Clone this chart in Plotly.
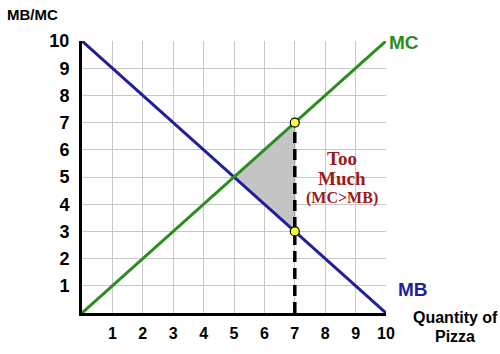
import plotly.graph_objects as go

quantity = [0, 10]
mb_values = [10, 0]
mc_values = [0, 10]
q_star = 7
mc_at_q = 7
mb_at_q = 3
eq_q = 5
eq_p = 5
tick_vals = list(range(1, 11))

fig = go.Figure()

# shaded deadweight triangle
fig.add_trace(go.Scatter(x=[eq_q, q_star, q_star, eq_q], y=[eq_p, mc_at_q, mb_at_q, eq_p],
                         fill="toself", fillcolor="#c4c4c4", mode="lines",
                         line=dict(color="#9a9a9a", width=1), hoverinfo="skip", showlegend=False))
# dashed line at q=7
fig.add_trace(go.Scatter(x=[q_star, q_star], y=[0, mc_at_q], mode="lines",
                         line=dict(color="black", width=3.5, dash="11px,6px"), showlegend=False))
fig.add_trace(go.Scatter(x=quantity, y=mb_values, mode="lines",
                         line=dict(color="#1f1f9c", width=3), showlegend=False))
fig.add_trace(go.Scatter(x=quantity, y=mc_values, mode="lines",
                         line=dict(color="#2b8c1f", width=3), showlegend=False))
fig.add_trace(go.Scatter(x=[q_star, q_star], y=[mc_at_q, mb_at_q], mode="markers",
                         marker=dict(color="#ffff33", size=9, line=dict(color="black", width=1.2)),
                         showlegend=False))

fig.update_xaxes(range=[0, 10], tickvals=tick_vals, showgrid=True, gridcolor="#c8c8c8", gridwidth=1,
                 showline=True, linecolor="black", linewidth=3, zeroline=False,
                 tickfont=dict(family="Liberation Sans, Arial", size=16, color="black", weight="bold"),
                 ticks="", ticklabelstandoff=4)
fig.update_yaxes(range=[0, 10], tickvals=tick_vals, showgrid=True, gridcolor="#c8c8c8", gridwidth=1,
                 showline=True, linecolor="black", linewidth=3, zeroline=False,
                 tickfont=dict(family="Liberation Sans, Arial", size=18, color="black", weight="bold"),
                 ticks="", ticklabelstandoff=6)

red = "#9c1a1a"
sans = "Liberation Sans, Arial"
serif = "Liberation Serif, Times New Roman"


def pa(x, y, text, size, color, family):
    return dict(x=x, y=y, xref="paper", yref="paper", text=text, showarrow=False,
                xanchor="center", yanchor="middle", font=dict(family=family, size=size, color=color))


annots = [
    pa(-0.164, 1.096, "<b>MB/MC</b>", 15, "black", sans),
    pa(1.06, 0.993, "<b>MC</b>", 19, "#2b8c1f", sans),
    pa(1.09, 0.086, "<b>MB</b>", 19, "#1f1f9c", sans),
    pa(1.227, -0.018, "<b>Quantity of</b>", 16, "black", sans),
    pa(1.227, -0.085, "<b>Pizza</b>", 16, "black", sans),
    pa(0.855, 0.568, "<b>Too</b>", 19, red, serif),
    pa(0.855, 0.493, "<b>Much</b>", 19, red, serif),
    pa(0.855, 0.422, "<b>(MC>MB)</b>", 16, red, serif),
]
fig.update_layout(width=500, height=354, margin=dict(l=82, r=114, t=41, b=33),
                  plot_bgcolor="white", paper_bgcolor="white", annotations=annots)

fig.write_html("out.html")
